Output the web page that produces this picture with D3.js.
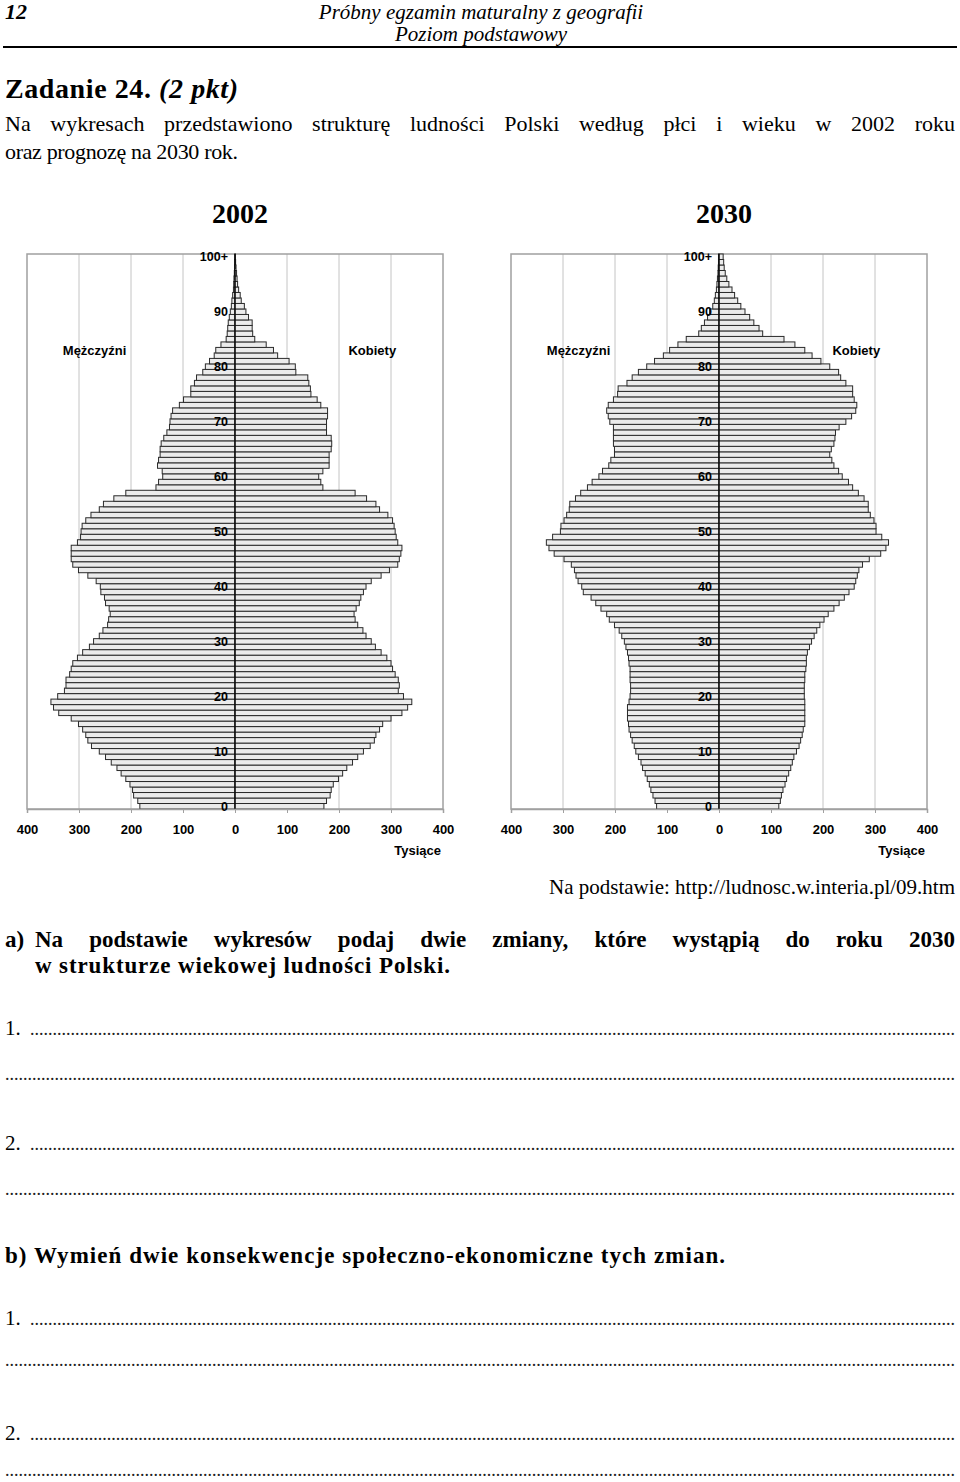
<!DOCTYPE html>
<html><head><meta charset="utf-8">
<script src="https://cdn.jsdelivr.net/npm/d3@7"></script>
<style>body{margin:0;background:#fff}svg{display:block}</style>
</head><body><div id="c"></div>
<script>
const ages = d3.range(0, 101);
const ageLabels = [0,10,20,30,40,50,60,70,80,90,100];
const xTicks = [-400,-300,-200,-100,0,100,200,300,400];
const years = ["2002","2030"];
const sexLabels = ["Mężczyźni","Kobiety"];
const unitLabel = "Tysiące";

const men2002 = [183,187,195,197,202,210,219,227,238,249,
261,276,283,287,293,301,315,339,349,354,
341,328,325,325,318,315,312,303,293,280,
272,261,254,245,243,240,242,249,251,258,
259,267,283,301,312,315,315,315,303,297,
296,294,287,277,261,253,233,210,152,147,
139,140,149,147,144,144,142,137,131,126,
125,123,120,107,99,85,85,78,74,62,
57,49,40,37,27,17,15,14,13,11,
9,7,6,4.5,3,2.5,2,1.3,0.8,0.5,0.3];
const women2002 = [171,176,183,185,189,199,207,215,226,236,
247,260,268,271,278,284,300,321,332,340,
324,314,316,314,308,303,300,292,281,270,
262,252,246,236,231,229,233,239,242,247,
252,262,281,297,313,316,319,321,313,310,
308,306,303,294,278,271,253,231,169,165,
161,169,181,181,181,185,186,185,176,176,
176,178,178,165,158,146,145,142,140,117,
116,104,82,74,60,38,34,33,33,26,
21,18,12,10,7,5,4,3,2,1.2,0.8];
const men2030 = [120,123,127,131,134,138,142,147,150,155,
160,163,167,170,173,174,176,176,176,173,
171,170,170,171,171,171,173,174,176,179,
182,187,192,201,211,216,227,237,246,261,
264,271,275,278,284,298,317,327,332,320,
305,304,298,293,288,287,276,266,253,244,
231,224,212,208,201,201,203,203,203,203,
210,213,216,213,203,195,194,177,167,155,
139,124,107,95,79,63,39,34,28,22,
18,12,9,7,5,4,3,2,1.5,1,1];
const women2030 = [115,118,120,123,127,130,134,138,141,144,
149,154,157,160,162,165,165,165,165,165,
164,164,164,165,165,167,168,168,170,174,
178,183,188,194,202,210,221,231,241,250,
260,263,266,269,276,289,311,321,326,313,
302,302,298,291,287,287,279,268,257,249,
237,230,221,217,213,216,221,223,224,231,
244,255,263,265,260,257,257,244,234,230,
213,196,179,165,146,125,84,77,67,59,
50,42,36,30,25,19,15,12,10,9,8];

const W = 960, H = 1482;
const svg = d3.select("#c").append("svg").attr("width", W).attr("height", H);
svg.append("rect").attr("width", W).attr("height", H).attr("fill", "#fff");

const SERIF = "'Liberation Serif','Times New Roman',serif";
const SANS = "'Liberation Sans',Arial,sans-serif";

function txt(x, y, s, opt = {}) {
  const t = svg.append("text").attr("x", x).attr("y", y).text(s)
    .attr("font-family", opt.family || SERIF)
    .attr("font-size", opt.size || 22)
    .attr("font-weight", opt.weight || "normal")
    .attr("font-style", opt.style || "normal")
    .attr("text-anchor", opt.anchor || "start")
    .attr("fill", "#000");
  if (opt.len) t.attr("textLength", opt.len).attr("lengthAdjust", "spacing");
  return t;
}
function justify(s, x0, x1, y, opt = {}) {
  const words = s.split(" ");
  const g = svg.append("g");
  const nodes = words.map(w => g.append("text").attr("y", y).text(w)
      .attr("font-family", SERIF).attr("font-size", opt.size || 22)
      .attr("font-weight", opt.weight || "normal").attr("fill", "#000"));
  const widths = nodes.map(n => n.node().getComputedTextLength());
  const gap = (x1 - x0 - d3.sum(widths)) / (words.length - 1);
  let x = x0;
  nodes.forEach((n, i) => { n.attr("x", x); x += widths[i] + gap; });
}
function dots(x0, x1, y) {
  const t = svg.append("text").attr("x", x0).attr("y", y)
    .attr("font-family", SERIF).attr("font-size", 18).attr("fill", "#222");
  let n = 10;
  t.text(".".repeat(n));
  const w1 = t.node().getComputedTextLength() / n;
  n = Math.floor((x1 - x0) / w1);
  t.text(".".repeat(n)).attr("textLength", x1 - x0).attr("lengthAdjust", "spacing");
}

// Header
txt(5, 19, "12", {size: 22, weight: "bold", style: "italic"});
txt(481, 19, "Próbny egzamin maturalny z geografii", {size: 21, style: "italic", anchor: "middle"});
txt(481, 41, "Poziom podstawowy", {size: 21, style: "italic", anchor: "middle"});
svg.append("line").attr("x1", 3).attr("x2", 957).attr("y1", 47).attr("y2", 47)
  .attr("stroke", "#000").attr("stroke-width", 2);

const zt = txt(5, 98, "", {size: 28, weight: "bold"});
zt.append("tspan").text("Zadanie 24. ");
zt.append("tspan").attr("font-style", "italic").text("(2 pkt)");
zt.attr("textLength", 233).attr("lengthAdjust", "spacing");
justify("Na wykresach przedstawiono strukturę ludności Polski według płci i wieku w 2002 roku", 5, 955, 131);
txt(5, 159, "oraz prognozę na 2030 rok.", {len: 233});

// Pyramids
function pyramid(cfg, men, women, year) {
  const g = svg.append("g");
  const x = d3.scaleLinear().domain([-400, 400]).range([cfg.left, cfg.right]);
  const y = d3.scaleBand().domain(ages).range([cfg.bottom, cfg.top]).padding(0);
  const cx = x(0);

  g.append("g").selectAll("line").data(xTicks.filter(d => Math.abs(d) !== 400 && d !== 0))
    .join("line").attr("x1", d => x(d)).attr("x2", d => x(d))
    .attr("y1", cfg.top).attr("y2", cfg.bottom)
    .attr("stroke", "#c4c4c4").attr("stroke-width", 1);
  g.append("rect").attr("x", cfg.left).attr("y", cfg.top)
    .attr("width", cfg.right - cfg.left).attr("height", cfg.bottom - cfg.top)
    .attr("fill", "none").attr("stroke", "#a0a0a0").attr("stroke-width", 1.5);

  const bw = y.bandwidth();
  const barAttrs = sel => sel.attr("height", bw).attr("fill", "#ebebeb")
    .attr("stroke", "#2a2a2a").attr("stroke-width", 1);
  g.append("g").selectAll("rect").data(ages).join("rect")
    .attr("x", a => x(-men[a])).attr("y", a => y(a))
    .attr("width", a => cx - x(-men[a])).call(barAttrs);
  g.append("g").selectAll("rect").data(ages).join("rect")
    .attr("x", cx).attr("y", a => y(a))
    .attr("width", a => x(women[a]) - cx).call(barAttrs);

  g.append("line").attr("x1", cx).attr("x2", cx).attr("y1", cfg.top).attr("y2", cfg.bottom)
    .attr("stroke", "#000").attr("stroke-width", 1.2);

  const ax = g.append("g").attr("transform", `translate(0,${cfg.bottom})`)
    .call(d3.axisBottom(x).tickValues(xTicks).tickSize(4).tickPadding(12)
      .tickFormat(d => Math.abs(d)));
  ax.select(".domain").attr("stroke", "#a0a0a0").attr("stroke-width", 1.5);
  ax.selectAll(".tick line").attr("stroke", "#a0a0a0");
  ax.selectAll("text").attr("font-family", SANS).attr("font-size", 13)
    .attr("font-weight", "bold").attr("fill", "#000");

  g.append("g").selectAll("text").data(ageLabels).join("text")
    .attr("x", cx - 7).attr("y", a => y(a) + bw / 2).attr("dy", "0.35em")
    .attr("text-anchor", "end").attr("font-family", SANS).attr("font-size", 12.5)
    .attr("font-weight", "bold").attr("fill", "#000")
    .text(a => a === 100 ? "100+" : a);

  g.append("text").attr("x", cfg.right - 2).attr("y", cfg.bottom + 46)
    .attr("text-anchor", "end").attr("font-family", SANS).attr("font-size", 13)
    .attr("font-weight", "bold").text(unitLabel);

  g.append("text").attr("x", x(-270)).attr("y", 355).attr("text-anchor", "middle")
    .attr("font-family", SANS).attr("font-size", 13).attr("font-weight", "bold").text(sexLabels[0]);
  g.append("text").attr("x", x(264)).attr("y", 355).attr("text-anchor", "middle")
    .attr("font-family", SANS).attr("font-size", 13).attr("font-weight", "bold").text(sexLabels[1]);

  txt(cx + 5, 223, year, {size: 28, weight: "bold", anchor: "middle"});
}

pyramid({left: 27, right: 443, top: 254, bottom: 809}, men2002, women2002, years[0]);
pyramid({left: 511, right: 927, top: 254, bottom: 809}, men2030, women2030, years[1]);

// Source & questions
txt(955, 894, "Na podstawie: http://ludnosc.w.interia.pl/09.htm", {size: 21, anchor: "end", len: 406});
txt(5, 947, "a)", {size: 23, weight: "bold"});
justify("Na podstawie wykresów podaj dwie zmiany, które wystąpią do roku 2030", 35, 955, 947, {size: 23, weight: "bold"});
txt(35, 973, "w strukturze wiekowej ludności Polski.", {size: 23, weight: "bold", len: 415});

txt(5, 1035, "1.", {size: 21}); dots(30, 955, 1035);
dots(5, 955, 1080);
txt(5, 1150, "2.", {size: 21}); dots(30, 955, 1150);
dots(5, 955, 1195);
txt(5, 1263, "b) Wymień dwie konsekwencje społeczno-ekonomiczne tych zmian.", {size: 23, weight: "bold", len: 720});
txt(5, 1325, "1.", {size: 21}); dots(30, 955, 1325);
dots(5, 955, 1366);
txt(5, 1440, "2.", {size: 21}); dots(30, 955, 1440);
dots(5, 955, 1476);
</script></body></html>
